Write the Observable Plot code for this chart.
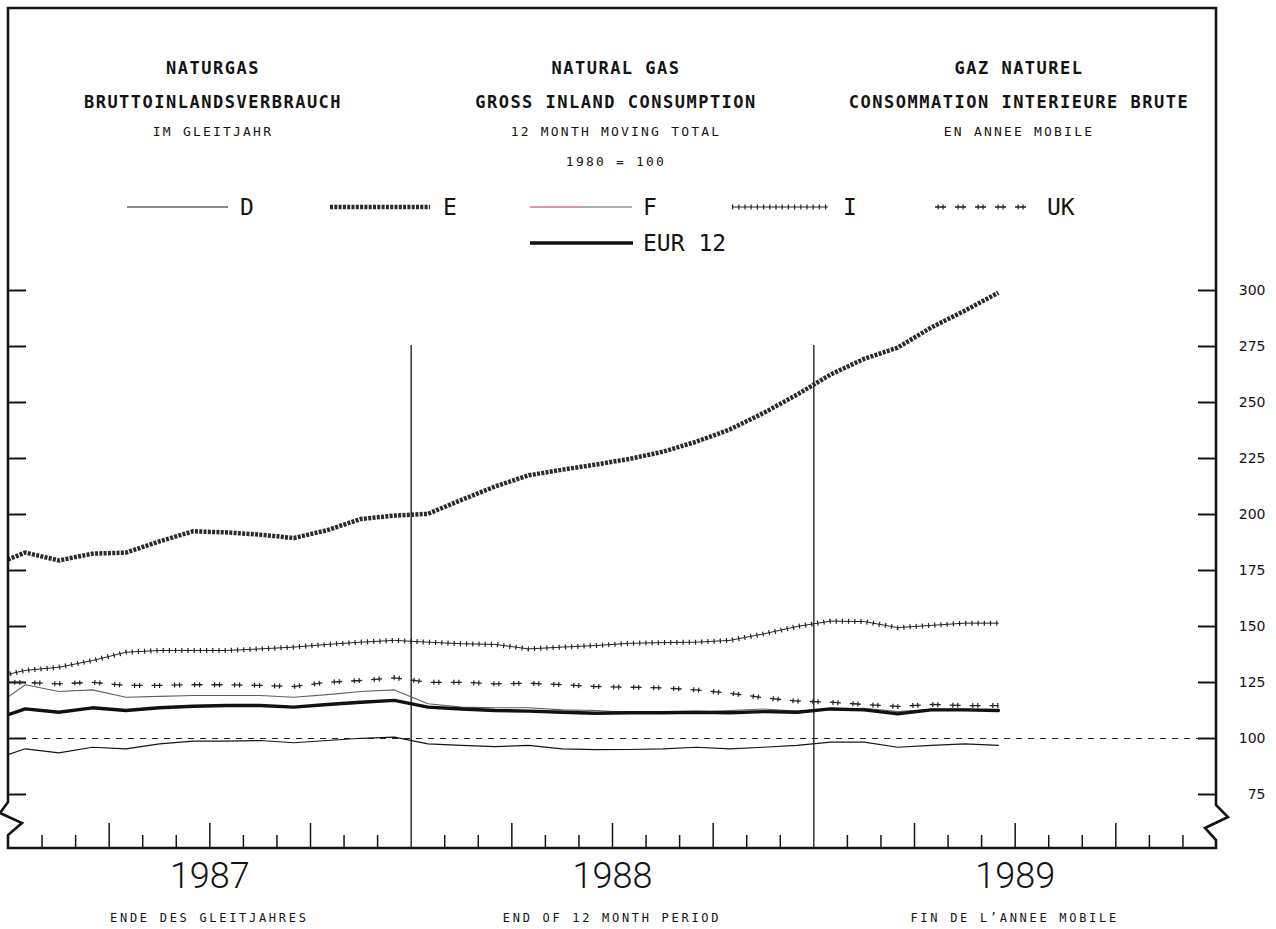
<!DOCTYPE html>
<html>
<head>
<meta charset="utf-8">
<script src="https://cdn.jsdelivr.net/npm/d3@7"></script>
<script src="https://cdn.jsdelivr.net/npm/@observablehq/plot@0.6"></script>
<style>
  body { margin: 0; background: #fff; }
  #wrap { position: relative; width: 1276px; height: 929px; overflow: hidden; background: #fff; }
  #chart { position: absolute; left: 0; top: 0; }
  .t { position: absolute; transform: translateX(-50%); white-space: nowrap; color: #141414; line-height: 1; }
  .tb { font-family: "DejaVu Sans Mono", monospace; font-weight: bold; font-size: 17px; letter-spacing: 1.5px; }
  .ts { font-family: "DejaVu Sans Mono", monospace; font-size: 13px; letter-spacing: 2.2px; }
  .tc { font-family: "DejaVu Sans Mono", monospace; font-size: 12px; letter-spacing: 2.7px; }
  .lg { position: absolute; font-family: "DejaVu Sans Mono", monospace; font-size: 23px; line-height: 1; color: #141414; white-space: nowrap; }
  .ls { position: absolute; overflow: visible; }
</style>
</head>
<body>
<div id="wrap"><div id="chart"></div></div>
<script>
// ---------- data (12 month moving total, 1980 = 100) ----------
const months = ["1986-12",
  "1987-01","1987-02","1987-03","1987-04","1987-05","1987-06","1987-07","1987-08","1987-09","1987-10","1987-11","1987-12",
  "1988-01","1988-02","1988-03","1988-04","1988-05","1988-06","1988-07","1988-08","1988-09","1988-10","1988-11","1988-12",
  "1989-01","1989-02","1989-03","1989-04","1989-05","1989-06"];
const D     = [90.4, 95.4, 93.6, 96.1, 95.4, 97.6, 98.8, 98.8, 99.1, 98.1, 99.1, 100.1, 100.6,
               97.6, 96.9, 96.4, 96.9, 95.4, 95.0, 95.1, 95.4, 96.1, 95.4, 96.1, 96.9,
               98.4, 98.4, 96.1, 96.9, 97.6, 96.9];
const E     = [177, 183, 179.5, 182.5, 183, 188, 192.5, 192, 191, 189.5, 193, 198, 199.5,
               200.3, 206.5, 212.5, 217.5, 220, 222.3, 224.8, 228, 232.5, 238, 245.3, 253.5,
               262.5, 269.5, 274.5, 283.5, 291, 299];
const F     = [113.2, 124, 121, 121.7, 118.4, 118.8, 119.2, 119.2, 119.2, 118.4, 119.6, 121, 121.7,
               115.5, 114, 113.7, 113.7, 112.8, 112.5, 111.7, 111.5, 111.7, 112.5, 113.2, 112.2,
               113, 113.5, 112, 113, 113, 112.5];
const I     = [127, 130.4, 131.8, 134.8, 138.5, 139.3, 139.3, 139.3, 140, 140.8, 142, 143, 143.8,
               143, 142.3, 142, 140, 140.8, 141.5, 142.5, 142.8, 143, 143.8, 146.7, 150,
               152.4, 152.2, 149.5, 150.5, 151.5, 151.5];
const UK    = [125.2, 125, 124.4, 125.1, 123.7, 123.7, 124, 124, 123.7, 123.2, 125.1, 125.9, 127.1,
               125.1, 125.1, 124.4, 124.7, 124, 123.2, 122.9, 122.6, 121.7, 120.2, 118.2, 116.7,
               116.2, 115.2, 114.3, 115.2, 114.7, 114.7];
const EUR12 = [108.2, 113.2, 111.7, 113.7, 112.5, 113.7, 114.4, 114.7, 114.7, 114, 115.2, 116.2, 117,
               114, 113.2, 112.5, 112.2, 111.7, 111.3, 111.5, 111.5, 111.7, 111.5, 112, 111.7,
               113.2, 112.8, 111, 112.8, 112.8, 112.5];
const seriesNames = ["D", "E", "F", "I", "UK", "EUR 12"];
const seriesValues = {"D": D, "E": E, "F": F, "I": I, "UK": UK, "EUR 12": EUR12};
const years = ["1987", "1988", "1989"];
const yTicks = [75, 100, 125, 150, 175, 200, 225, 250, 275, 300];
const baseValue = 100;

// ---------- styles (one or more strokes per series) ----------
const styles = {
  "D":      [{stroke: "#151515", strokeWidth: 1.2}],
  "E":      [{stroke: "#2a2a2a", strokeWidth: 4.5, strokeDasharray: "3 1.3", strokeLinecap: "butt"}],
  "F":      [{stroke: "#6e5a60", strokeWidth: 1.1}],
  "I":      [{stroke: "#222", strokeWidth: 1},
             {stroke: "#222", strokeWidth: 5, strokeDasharray: "1.2 5", strokeLinecap: "butt"}],
  "UK":     [{stroke: "#222", strokeWidth: 1.3, strokeDasharray: "11 9", strokeLinecap: "butt"},
             {stroke: "#222", strokeWidth: 5, strokeDasharray: "1.2 3.8 1.2 13.8", strokeDashoffset: -2.5, strokeLinecap: "butt"}],
  "EUR 12": [{stroke: "#111", strokeWidth: 3.4}]
};
const drawOrder = ["D", "F", "UK", "I", "E", "EUR 12"];

// month string -> position in months from Jan 1987 (mid-month)
const monthPos = m => { const [y, mo] = m.split("-").map(Number); return (y - 1987) * 12 + (mo - 1) + 0.5; };

const rows = [];
for (const s of seriesNames) seriesValues[s].forEach((v, i) => rows.push({series: s, month: months[i], value: v}));

// ---------- layout ----------
const W = 1276, H = 929;
const mL = 8, mR = 60, mT = 8, mB = 81;
const frameW = W - mL - mR, frameH = H - mT - mB;
const monthTicks = d3.range(1, 36).filter(m => m % 12 !== 0);
const minor = monthTicks.filter(m => m % 3 !== 0);
const major = monthTicks.filter(m => m % 3 === 0);
const yearBounds = [12, 24];
const yearCenters = years.map(y => (+y - 1987) * 12 + 6);

const lineMarks = [];
for (const s of drawOrder) {
  for (const st of styles[s]) {
    lineMarks.push(Plot.line(rows.filter(r => r.series === s), {
      x: r => monthPos(r.month), y: "value", clip: true,
      strokeLinejoin: "round", strokeLinecap: "round", ...st
    }));
  }
}

const chart = Plot.plot({
  width: W, height: H,
  marginLeft: mL, marginRight: mR, marginTop: mT, marginBottom: mB,
  x: {type: "linear", domain: [0, 36], label: null},
  y: {type: "linear", domain: [75, 300], range: [794, 290], label: null},
  style: {background: "transparent", color: "#141414"},
  marks: [
    Plot.ruleY([baseValue], {stroke: "#222", strokeWidth: 1, strokeDasharray: "6 6"}),
    Plot.tickY(yTicks, {y: d => d, insetRight: frameW - 18, stroke: "#141414", strokeWidth: 2}),
    Plot.tickY(yTicks, {y: d => d, insetLeft: frameW - 18, stroke: "#141414", strokeWidth: 2}),
    Plot.tickX(minor, {x: d => d, insetTop: frameH - 13, stroke: "#141414", strokeWidth: 1.5}),
    Plot.tickX(major, {x: d => d, insetTop: frameH - 25, stroke: "#141414", strokeWidth: 1.5}),
    Plot.tickX(yearBounds, {x: d => d, insetTop: 337, stroke: "#141414", strokeWidth: 1.3}),
    ...lineMarks,
    Plot.axisY(yTicks, {anchor: "right", tickSize: 0, tickPadding: 49, textAnchor: "end", label: null,
      fontSize: 14, fontFamily: "DejaVu Sans", tickFormat: d => String(d)}),
    Plot.axisX(yearCenters, {anchor: "bottom", tickSize: 0, tickPadding: 14, label: null,
      fontSize: 36, fontFamily: "Roboto", fontWeight: 300,
      tickFormat: d => years[yearCenters.indexOf(d)]})
  ]
});
document.getElementById("chart").appendChild(chart);

// frame with axis-break zigzags
const R = W - mR, B = H - mB;
d3.select(chart).append("path")
  .attr("d", `M${mL},${mT}L${R},${mT}L${R},805L${R + 12},817L${R - 11},828L${R},840L${R},${B}` +
             `L${mL},${B}L${mL},835L${mL + 14},823L${mL - 8},813L${mL},802Z`)
  .attr("fill", "none").attr("stroke", "#141414").attr("stroke-width", 2.6).attr("stroke-linejoin", "miter");

// ---------- titles ----------
const wrap = d3.select("#wrap");
const titleCols = [
  {cx: 213, lines: [["NATURGAS", "tb", 68.5], ["BRUTTOINLANDSVERBRAUCH", "tb", 102.5], ["IM GLEITJAHR", "ts", 131.5]]},
  {cx: 616, lines: [["NATURAL GAS", "tb", 68.5], ["GROSS INLAND CONSUMPTION", "tb", 102.5], ["12 MONTH MOVING TOTAL", "ts", 131.5], ["1980 = 100", "ts", 161]]},
  {cx: 1019, lines: [["GAZ NATUREL", "tb", 68.5], ["CONSOMMATION INTERIEURE BRUTE", "tb", 102.5], ["EN ANNEE MOBILE", "ts", 131.5]]}
];
const fs = {tb: 17, ts: 13, tc: 12};
for (const col of titleCols) for (const [txt, cls, cy] of col.lines) {
  wrap.append("div").attr("class", `t ${cls}`).style("left", col.cx + "px")
    .style("top", (cy - 0.48 * fs[cls]) + "px").text(txt);
}
const captions = ["ENDE DES GLEITJAHRES", "END OF 12 MONTH PERIOD", "FIN DE L\u2019ANNEE MOBILE"];
captions.forEach((c, i) => {
  wrap.append("div").attr("class", "t tc").style("left", (mL + (yearCenters[i]) * frameW / 36) + "px")
    .style("top", (918 - 0.48 * 12) + "px").text(c);
});

// ---------- legend ----------
const legendPos = {
  "D": [127, 228, 207, 240], "E": [330, 430, 207, 443], "F": [530, 632, 207, 643],
  "I": [732, 828, 207, 843], "UK": [935, 1027, 207, 1047], "EUR 12": [530, 633, 243, 643]
};
for (const s of seriesNames) {
  const [x1, x2, cy, lx] = legendPos[s];
  const svg = wrap.append("svg").attr("class", "ls").attr("width", x2 - x1).attr("height", 14)
    .style("left", x1 + "px").style("top", (cy - 7) + "px");
  const segs = s === "F" ? [[0, (x2 - x1) / 2, "#b23a55"], [(x2 - x1) / 2, x2 - x1, "#6e5a60"]] : [[0, x2 - x1, null]];
  for (const st of styles[s]) for (const [a, b, col] of segs) {
    svg.append("line").attr("x1", a).attr("x2", b).attr("y1", 7).attr("y2", 7)
      .attr("stroke", col || st.stroke).attr("stroke-width", st.strokeWidth)
      .attr("stroke-dasharray", st.strokeDasharray || null)
      .attr("stroke-dashoffset", st.strokeDashoffset || null)
      .attr("stroke-linecap", st.strokeLinecap || "butt");
  }
  wrap.append("div").attr("class", "lg").style("left", lx + "px").style("top", (cy - 0.48 * 23) + "px").text(s);
}
</script>
</body>
</html>
